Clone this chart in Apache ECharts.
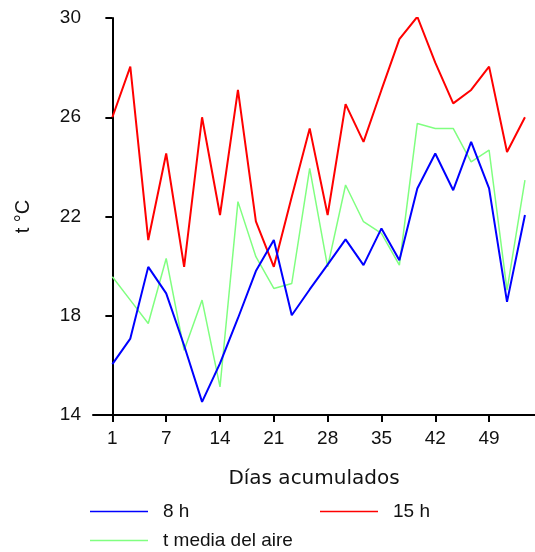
<!DOCTYPE html>
<html>
<head>
<meta charset="utf-8">
<script src="https://cdn.jsdelivr.net/npm/echarts@6/dist/echarts.min.js"></script>
<style>html,body{margin:0;padding:0;background:#fff}#c{width:535px;height:552px}</style>
</head>
<body>
<div id="c"></div>
<script>
// tick labels (days) placed at sample indices 0,3,6,...
var dayLabels = ['1','7','14','21','28','35','42','49'];
var dayTickIdx = [0,3,6,9,12,15,18,21];
var yTicks = [14,18,22,26,30];
// series values (°C), one per sample
var t8h = [16.05,17.08,19.97,18.9,16.8,14.53,16.08,17.9,19.8,21.05,18.02,19.06,20.06,21.08,20.04,21.52,20.24,23.13,24.54,23.06,25.01,23.13,18.56,22.06];
var t15h = [26.0,28.04,21.05,24.54,19.97,26.0,22.06,27.1,21.8,19.97,22.8,25.55,22.06,26.53,25.01,27.1,29.15,30.05,28.2,26.56,27.1,28.04,24.6,26.0];
var tMedia = [19.57,18.63,17.69,20.31,16.61,18.63,15.13,22.6,20.38,19.1,19.3,23.94,19.97,23.27,21.79,21.32,20.04,25.75,25.55,25.55,24.2,24.68,19.03,23.47];
var names = ['8 h','15 h','t media del aire'];

function pairs(arr){ return arr.map(function(v,i){ return [i,v]; }); }

var chart = echarts.init(document.getElementById('c'), null, {renderer:'canvas'});
var font = 'Arial, "Liberation Sans", sans-serif';
var legendBase = {
  orient:'horizontal', itemWidth:58, itemHeight:14, padding:0,
  icon:'path://M0,6L58,6L58,7.5L0,7.5Z',
  textStyle:{fontFamily:font, fontSize:19, color:'#111', padding:[0,0,0,10]},
  selectedMode:false
};
chart.setOption({
  animation:false,
  backgroundColor:'#fff',
  grid:{left:93, top:18, right:0, bottom:137, containLabel:false},
  legend:[
    Object.assign({}, legendBase, {data:[names[0]], left:90, top:502}),
    Object.assign({}, legendBase, {data:[names[1]], left:320, top:502}),
    Object.assign({}, legendBase, {data:[names[2]], left:90, top:531})
  ],
  xAxis:{
    type:'value', min:-1.08, max:23.56,
    name:'Días acumulados', nameLocation:'middle', nameGap:54,
    nameTextStyle:{fontFamily:'"DejaVu Sans", sans-serif', fontSize:20, color:'#111'},
    axisLine:{show:true, onZero:false, lineStyle:{color:'#000', width:2}},
    axisTick:{show:true, length:7, lineStyle:{color:'#000', width:2}, customValues:dayTickIdx},
    axisLabel:{fontFamily:font, fontSize:19, color:'#111', margin:14, customValues:dayTickIdx,
      formatter:function(v){ var k = dayTickIdx.indexOf(Math.round(v)); return k>=0 ? dayLabels[k] : ''; }},
    splitLine:{show:false}
  },
  yAxis:{
    type:'value', min:14, max:30, interval:4,
    name:'t °C', nameLocation:'middle', nameGap:60, nameRotate:90,
    nameTextStyle:{fontFamily:font, fontSize:20, color:'#111'},
    axisLine:{show:true, lineStyle:{color:'#000', width:2}},
    axisTick:{show:true, length:7, lineStyle:{color:'#000', width:2}},
    axisLabel:{fontFamily:font, fontSize:19, color:'#111', margin:12,
      formatter:function(v){ return yTicks.indexOf(v)>=0 ? String(v) : ''; }},
    splitLine:{show:false}
  },
  series:[
    {name:names[0], type:'line', data:pairs(t8h), symbol:'none', lineStyle:{color:'#0000ff', width:2}, itemStyle:{color:'#0000ff'}, z:3},
    {name:names[1], type:'line', data:pairs(t15h), symbol:'none', lineStyle:{color:'#ff0000', width:2}, itemStyle:{color:'#ff0000'}, z:2},
    {name:names[2], type:'line', data:pairs(tMedia), symbol:'none', lineStyle:{color:'#80ff80', width:1.5}, itemStyle:{color:'#80ff80'}, z:1}
  ]
});
</script>
</body>
</html>
